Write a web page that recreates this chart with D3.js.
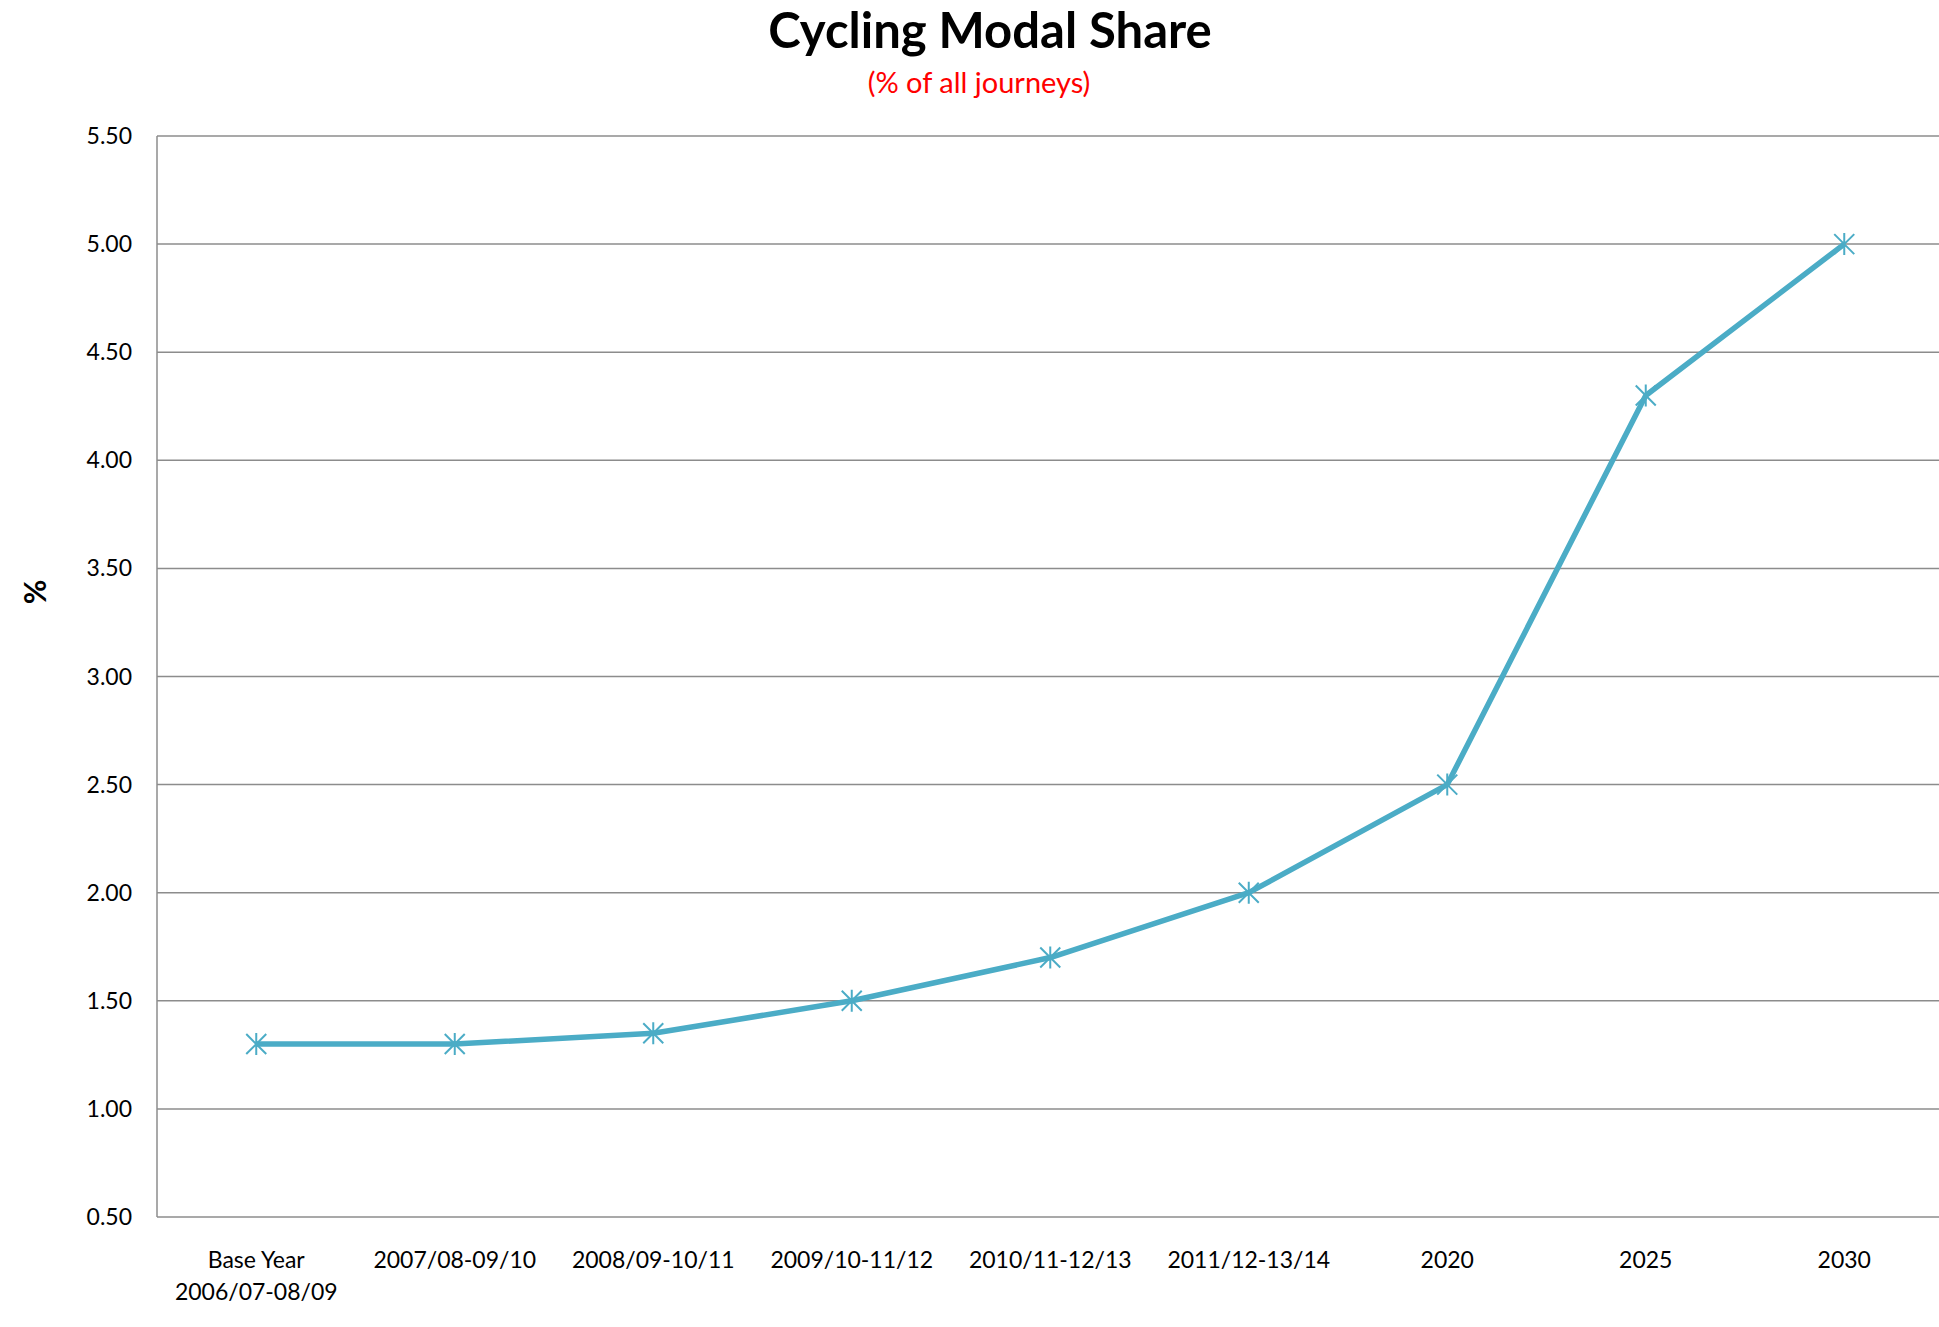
<!DOCTYPE html>
<html><head><meta charset="utf-8">
<script src="https://cdn.jsdelivr.net/npm/d3@7"></script>
<style>body{margin:0;background:#fff}svg{display:block}text{font-family:Lato,"Open Sans",sans-serif}</style>
</head><body>
<script>
const categories = [["Base Year","2006/07-08/09"],["2007/08-09/10"],["2008/09-10/11"],["2009/10-11/12"],["2010/11-12/13"],["2011/12-13/14"],["2020"],["2025"],["2030"]];
const values = [1.3, 1.3, 1.35, 1.5, 1.7, 2.0, 2.5, 4.3, 5.0];
const yTicks = [0.5, 1.0, 1.5, 2.0, 2.5, 3.0, 3.5, 4.0, 4.5, 5.0, 5.5];
const title = "Cycling Modal Share";
const subtitle = "(% of all journeys)";
const yTitle = "%";

(function () {
const W = 1939, H = 1327;
const mLeft = 157, mTop = 136, mBottom = 1217, mRight = 157 + 9 * 198.5;
const svg = d3.select("body").append("svg").attr("width", W).attr("height", H);

const x = d3.scaleBand().domain(d3.range(categories.length)).range([mLeft, mRight]);
const y = d3.scaleLinear().domain([0.5, 5.5]).range([mBottom, mTop]);

// gridlines
svg.append("g").selectAll("line").data(yTicks).join("line")
  .attr("x1", mLeft).attr("x2", W).attr("y1", d => y(d)).attr("y2", d => y(d))
  .attr("stroke", "#8c8c8c").attr("stroke-width", 1.5);
// y axis line
svg.append("line").attr("x1", mLeft).attr("x2", mLeft).attr("y1", mTop).attr("y2", mBottom)
  .attr("stroke", "#8c8c8c").attr("stroke-width", 1.5);

// y tick labels
svg.append("g").selectAll("text").data(yTicks).join("text")
  .attr("x", 132).attr("y", d => y(d)).attr("dy", "0.35em")
  .attr("text-anchor", "end").attr("font-size", 23).attr("fill", "#000")
  .text(d => d.toFixed(2));

// x labels
const xl = svg.append("g").selectAll("text").data(categories).join("text")
  .attr("x", (d, i) => x(i) + x.bandwidth() / 2).attr("y", 1268)
  .attr("text-anchor", "middle").attr("font-size", 23).attr("fill", "#000");
xl.selectAll("tspan").data(d => d).join("tspan")
  .attr("x", function() { return this.parentNode.getAttribute("x"); })
  .attr("dy", (d, i) => i === 0 ? 0 : 32).text(d => d);

// line
const line = d3.line().x((d, i) => x(i) + x.bandwidth() / 2).y(d => y(d));
svg.append("path").datum(values).attr("d", line)
  .attr("fill", "none").attr("stroke", "#4BACC6").attr("stroke-width", 5.5).attr("stroke-linejoin", "round");

// asterisk markers
const r = 10;
const mk = svg.append("g").selectAll("g").data(values).join("g")
  .attr("transform", (d, i) => `translate(${x(i) + x.bandwidth() / 2},${y(d)})`);
mk.append("path")
  .attr("d", `M${-r},${-r}L${r},${r}M${-r},${r}L${r},${-r}M0,${-r * 1.1}L0,${r * 1.1}`)
  .attr("stroke", "#4BACC6").attr("stroke-width", 2).attr("fill", "none");

// titles
svg.append("text").attr("x", 990).attr("y", 48).attr("text-anchor", "middle")
  .attr("font-size", 49).attr("font-weight", "bold").attr("fill", "#000").text(title);
svg.append("text").attr("x", 979).attr("y", 93).attr("text-anchor", "middle")
  .attr("font-size", 29).attr("fill", "#ff0000").text(subtitle);
svg.append("text").attr("transform", "translate(46,592) rotate(-90)").attr("text-anchor", "middle")
  .attr("font-size", 30).attr("font-weight", "bold").attr("fill", "#000").text(yTitle);
})();
</script>
</body></html>
